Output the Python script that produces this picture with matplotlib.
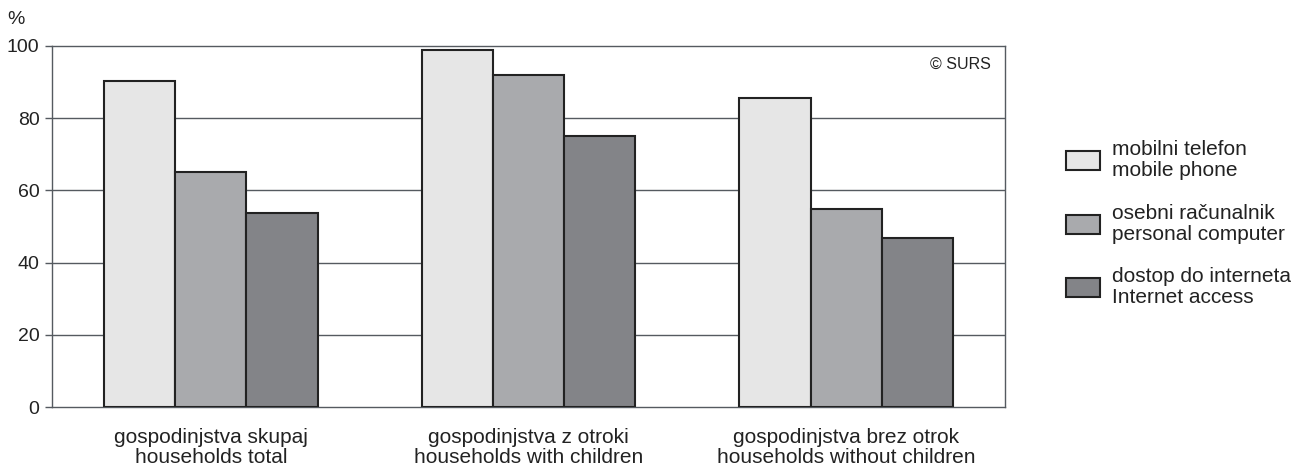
import matplotlib
matplotlib.use("Agg")
import matplotlib.pyplot as plt
from matplotlib.patches import Rectangle
import numpy as np

plt.rcParams['font.family'] = ['Liberation Sans', 'DejaVu Sans']

categories = ["gospodinjstva skupaj\nhouseholds total",
              "gospodinjstva z otroki\nhouseholds with children",
              "gospodinjstva brez otrok\nhouseholds without children"]
series_names = ["mobilni telefon\nmobile phone",
                "osebni računalnik\npersonal computer",
                "dostop do interneta\nInternet access"]
mobile_phone = [90.3, 98.9, 85.7]
personal_computer = [65.1, 92.0, 54.8]
internet_access = [53.8, 75.1, 46.9]
yticks = [0, 20, 40, 60, 80, 100]

series = [mobile_phone, personal_computer, internet_access]
colors = ["#e6e6e6", "#a9aaad", "#838488"]
edge = "#222222"
txt = "#222222"

W, H = 1304, 468
fig = plt.figure(figsize=(W/100, H/100), dpi=100)
ax = fig.add_axes([52/W, 1 - 407/H, (1005-52)/W, (407-46)/H])

x = np.arange(len(categories))
bw = 0.224
for i, (vals, c) in enumerate(zip(series, colors)):
    ax.bar(x + (i - 1) * bw, vals, width=bw, color=c, edgecolor=edge,
           linewidth=1.5, zorder=3)

ax.set_ylim(0, 100)
ax.set_xlim(-0.5, 2.5)
ax.set_yticks(yticks)
ax.set_yticklabels([str(t) for t in yticks], fontsize=14, color=txt)
ax.set_xticks(x)
ax.set_xticklabels(categories, fontsize=15, color=txt, linespacing=1.1)
ax.tick_params(axis='x', length=0, pad=15)
ax.tick_params(axis='y', length=5, width=1, color="#555a60", pad=4)
for t in yticks[1:-1]:
    ax.axhline(t, color="#555a60", linewidth=1, zorder=1)
for s in ['top', 'right', 'left', 'bottom']:
    ax.spines[s].set_color("#555a60")
    ax.spines[s].set_linewidth(1)

fig.text(16/W, 1 - 20/H, "%", fontsize=14, color=txt, ha='center', va='center')
fig.text(991/W, 1 - 64/H, "© SURS", fontsize=11.5, color=txt,
         ha='right', va='center')

# legend
centers = [160, 224, 287]
for name, c, cy in zip(series_names, colors, centers):
    fig.add_artist(Rectangle((1066/W, 1 - (cy + 9.5)/H), 34/W, 19/H,
                             transform=fig.transFigure, facecolor=c,
                             edgecolor=edge, linewidth=1.5))
    fig.text(1112/W, 1 - cy/H, name, fontsize=15, color=txt,
             ha='left', va='center', linespacing=1.1)

fig.savefig("out.png", dpi=100)
